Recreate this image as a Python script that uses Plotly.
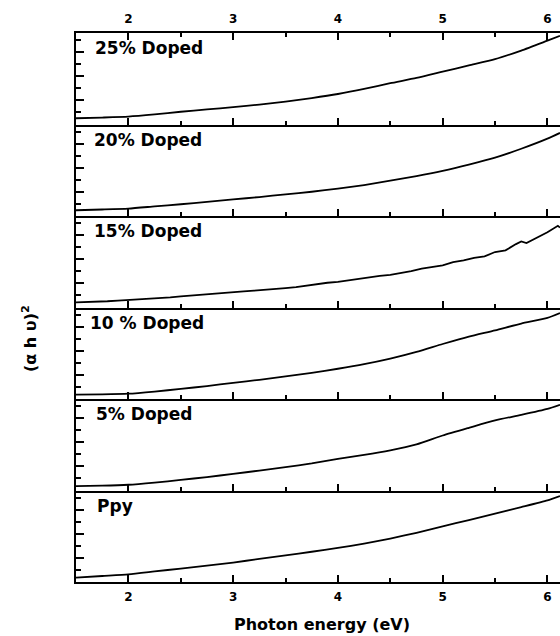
import plotly.graph_objects as go
from plotly.subplots import make_subplots

# Photon energy grid (eV) for the smooth spectra
energy = [1.5, 1.75, 2.0, 2.25, 2.5, 2.75, 3.0, 3.25, 3.5, 3.75, 4.0,
          4.25, 4.5, 4.75, 5.0, 5.25, 5.5, 5.75, 6.0, 6.12]

# Finer grid for the noisier 15% spectrum
energy_fine = [1.5, 1.6, 1.7, 1.8, 1.9, 2.0, 2.1, 2.2, 2.3, 2.4, 2.5, 2.6,
               2.7, 2.8, 2.9, 3.0, 3.1, 3.2, 3.3, 3.4, 3.5, 3.6, 3.7, 3.8,
               3.9, 4.0, 4.1, 4.2, 4.3, 4.4, 4.5, 4.6, 4.7, 4.8, 4.9, 5.0,
               5.1, 5.2, 5.3, 5.4, 5.5, 5.6, 5.7, 5.75, 5.8, 5.9, 6.0, 6.1, 6.12]

# (alpha h nu)^2, arbitrary units
doped_25 = [0.26, 0.29, 0.33, 0.42, 0.53, 0.63, 0.72, 0.83, 0.95, 1.10, 1.27,
            1.48, 1.72, 1.94, 2.20, 2.46, 2.72, 3.08, 3.49, 3.69]
doped_20 = [0.24, 0.27, 0.31, 0.40, 0.49, 0.59, 0.69, 0.79, 0.90, 1.01, 1.14,
            1.29, 1.47, 1.66, 1.88, 2.14, 2.43, 2.80, 3.22, 3.46]
doped_15 = [0.21, 0.22, 0.25, 0.26, 0.29, 0.31, 0.33, 0.36, 0.40, 0.42, 0.46, 0.50,
            0.54, 0.56, 0.61, 0.64, 0.67, 0.70, 0.73, 0.75, 0.81, 0.85, 0.92, 0.96,
            1.03, 1.07, 1.14, 1.18, 1.25, 1.32, 1.36, 1.42, 1.51, 1.62, 1.68, 1.75,
            1.89, 1.96, 2.07, 2.13, 2.31, 2.38, 2.64, 2.75, 2.68, 2.89, 3.13, 3.40, 3.33]
doped_10 = [0.18, 0.19, 0.22, 0.31, 0.42, 0.54, 0.67, 0.80, 0.94, 1.09, 1.26,
            1.45, 1.68, 1.96, 2.29, 2.60, 2.86, 3.14, 3.38, 3.58]
doped_5 = [0.18, 0.20, 0.24, 0.33, 0.44, 0.56, 0.69, 0.83, 0.97, 1.13, 1.32,
           1.48, 1.67, 1.92, 2.29, 2.61, 2.92, 3.15, 3.40, 3.57]
ppy = [0.18, 0.25, 0.32, 0.44, 0.56, 0.68, 0.81, 0.96, 1.11, 1.26, 1.42,
       1.60, 1.81, 2.05, 2.32, 2.58, 2.85, 3.12, 3.40, 3.58]

panel_labels = ["25% Doped", "20% Doped", "15% Doped", "10 % Doped", "5% Doped", "Ppy"]
x_ticks = [2, 3, 4, 5, 6]

panels = [
    (energy, doped_25, "spline"),
    (energy, doped_20, "spline"),
    (energy_fine, doped_15, "linear"),
    (energy, doped_10, "spline"),
    (energy, doped_5, "spline"),
    (energy, ppy, "spline"),
]

W, H = 560, 636
M_L, M_R, M_T, M_B = 76, 0, 33, 54
plot_w = W - M_L - M_R
plot_h = H - M_T - M_B
panel_h = plot_h / 6
# left edge of each panel label, in pixels from the plot's left edge
label_dx = [16.7, 16.3, 16.0, 12.3, 18.3, 19.0]

FONT = "DejaVu Sans"
x_range = [1.5, 6.12]
y_range = [0, 3.81]

fig = make_subplots(rows=6, cols=1, shared_xaxes=True, vertical_spacing=0)

for i, (xs, ys, shape) in enumerate(panels, start=1):
    line = dict(color="black", width=1.8, shape=shape)
    if shape == "spline":
        line["smoothing"] = 0.6
    fig.add_trace(go.Scatter(x=xs, y=ys, mode="lines", line=line,
                             showlegend=False, hoverinfo="skip"), row=i, col=1)

axis_common = dict(
    showline=True, linecolor="black", linewidth=2,
    showgrid=False, zeroline=False,
    ticks="inside", tickcolor="black", tickwidth=1.5,
)

for i in range(1, 7):
    xa = dict(
        axis_common, range=x_range, tickmode="array", tickvals=x_ticks,
        ticklen=7,
        minor=dict(ticks="inside", ticklen=4, tickwidth=1.5, tickcolor="black",
                   dtick=0.5, tick0=0),
        showticklabels=(i in (1, 6)),
        ticklabelstandoff=3,
        tickfont=dict(family=FONT, size=12, color="black", weight="bold"),
    )
    if i == 1:
        xa.update(side="top", mirror="ticks")
    ya = dict(
        axis_common, range=y_range, dtick=1, tick0=0, ticklen=8,
        minor=dict(ticks="inside", ticklen=5, tickwidth=1.5, tickcolor="black",
                   dtick=0.5, tick0=0),
        showticklabels=False,
    )
    fig.update_xaxes(xa, row=i, col=1)
    fig.update_yaxes(ya, row=i, col=1)


def axis_ref(letter, i):
    return f"{letter} domain" if i == 1 else f"{letter}{i} domain"


annotations = []
for i, label in enumerate(panel_labels, start=1):
    annotations.append(dict(
        text=label, xref=axis_ref("x", i), yref=axis_ref("y", i),
        x=label_dx[i - 1] / plot_w, y=1 - 15 / panel_h,
        xanchor="left", yanchor="middle", showarrow=False,
        font=dict(family=FONT, size=17, color="black", weight="bold"),
    ))

annotations.append(dict(
    text="Photon energy (eV)", xref="paper", yref="paper",
    x=(321.5 - M_L) / plot_w, y=-(624 - (H - M_B)) / plot_h,
    xanchor="center", yanchor="middle", showarrow=False,
    font=dict(family=FONT, size=16, color="black", weight="bold"),
))
annotations.append(dict(
    text="(α h υ)<sup>2</sup>", xref="paper", yref="paper",
    x=(29 - M_L) / plot_w, y=((H - M_B) - 339) / plot_h,
    xanchor="center", yanchor="middle", textangle=-90, showarrow=False,
    font=dict(family=FONT, size=16, color="black", weight="bold"),
))

fig.update_layout(
    width=W, height=H,
    margin=dict(l=M_L, r=M_R, t=M_T, b=M_B, pad=0),
    paper_bgcolor="white", plot_bgcolor="white",
    annotations=annotations,
)

fig.write_html("out.html")
